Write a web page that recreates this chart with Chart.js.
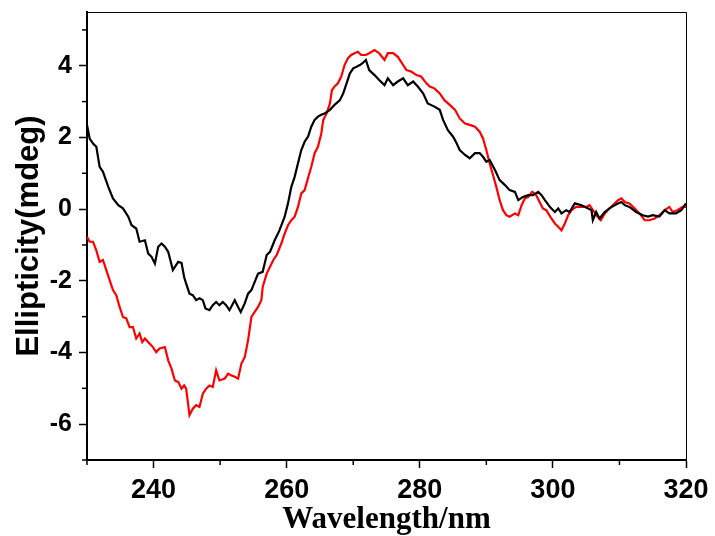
<!DOCTYPE html>
<html>
<head>
<meta charset="utf-8">
<script src="https://cdn.jsdelivr.net/npm/chart.js@4/dist/chart.umd.min.js"></script>
<style>
html,body{margin:0;padding:0;background:#fff;}
#wrap{width:715px;height:536px;}
</style>
</head>
<body>
<div id="wrap"><canvas id="c" width="715" height="536"></canvas></div>
<script>
// Black spectrum
const blackWavelength = [230.0,230.4,230.9,231.4,231.9,232.4,233.2,233.9,234.7,235.4,236.2,236.7,237.4,237.9,238.7,239.2,239.7,240.2,240.7,241.2,241.7,242.2,242.9,243.7,244.2,244.6,244.9,245.4,245.9,246.4,246.9,247.4,247.8,248.4,248.9,249.4,249.9,250.4,250.9,251.4,252.2,252.7,253.1,253.7,254.2,254.7,255.2,255.7,256.4,257.0,257.5,258.2,258.9,259.7,260.2,260.7,261.2,261.7,262.2,262.7,263.2,263.7,264.2,264.7,265.2,265.7,266.5,267.2,268.0,268.5,269.0,269.5,270.0,270.5,271.0,271.4,271.9,272.4,273.2,273.9,274.7,275.2,276.0,276.7,277.5,278.2,279.0,279.7,280.5,281.2,282.2,283.0,283.5,284.2,285.0,285.5,286.0,286.8,287.5,288.3,289.0,289.5,290.0,290.5,291.3,292.0,292.8,293.5,294.3,294.8,295.5,296.3,297.0,297.8,298.3,298.8,299.6,300.3,300.8,301.3,302.0,302.5,303.3,304.3,305.3,305.8,306.0,306.5,307.0,307.8,308.5,309.3,309.8,310.3,310.8,311.5,312.5,313.5,314.3,315.0,316.0,316.8,317.5,318.5,319.3,320.0];
const blackEllipticity = [2.35,1.97,1.83,1.74,1.18,1.04,0.62,0.30,0.11,0.02,-0.21,-0.45,-0.54,-0.91,-0.87,-1.24,-1.33,-1.52,-1.05,-0.96,-1.05,-1.19,-1.70,-1.47,-1.50,-1.90,-2.08,-2.36,-2.40,-2.54,-2.49,-2.54,-2.77,-2.82,-2.68,-2.59,-2.68,-2.59,-2.68,-2.82,-2.54,-2.73,-2.87,-2.63,-2.36,-2.26,-2.03,-1.80,-1.75,-1.28,-1.19,-0.87,-0.60,-0.21,0.16,0.62,0.90,1.28,1.65,1.88,2.02,2.30,2.49,2.58,2.63,2.67,2.77,2.91,3.04,3.23,3.51,3.79,3.93,3.97,4.02,4.07,4.16,3.88,3.74,3.60,3.46,3.65,3.46,3.56,3.65,3.46,3.56,3.42,3.23,2.95,2.86,2.77,2.49,2.21,2.02,1.85,1.65,1.51,1.42,1.56,1.56,1.46,1.32,1.37,1.09,0.81,0.67,0.53,0.48,0.25,0.34,0.39,0.39,0.48,0.39,0.25,0.05,-0.08,0.02,-0.12,-0.03,-0.08,0.16,0.11,0.02,-0.03,-0.31,-0.08,-0.26,-0.08,0.02,0.11,0.16,0.20,0.11,0.06,-0.08,-0.17,-0.21,-0.17,-0.21,-0.03,-0.12,-0.12,-0.03,0.16];

// Red spectrum
const redWavelength = [230.0,230.4,230.9,231.4,231.9,232.4,232.9,233.4,233.9,234.4,234.9,235.4,235.9,236.4,236.9,237.4,237.9,238.3,238.7,239.4,239.9,240.4,240.9,241.7,242.2,242.7,243.2,243.7,244.2,244.6,244.9,245.4,245.9,246.4,246.9,247.4,247.9,248.4,248.9,249.4,249.9,250.7,251.2,251.7,252.2,252.7,253.2,253.7,254.2,254.7,255.2,255.7,256.2,256.4,257.0,257.5,258.0,258.5,259.2,259.7,260.2,260.7,261.2,261.7,262.2,262.7,263.2,263.7,264.2,264.7,265.2,265.5,266.0,266.5,266.8,267.2,267.7,268.2,268.7,269.2,269.7,270.2,270.7,271.2,271.9,272.4,273.2,273.9,274.7,275.2,276.0,276.7,277.2,278.0,278.7,279.5,280.2,281.0,281.5,282.2,283.0,283.7,284.5,285.3,286.0,286.8,287.5,288.3,289.0,289.5,290.0,290.5,291.0,291.5,292.0,292.5,293.0,293.5,294.3,294.8,295.3,295.8,296.3,296.9,297.5,298.0,298.5,299.0,299.6,300.3,300.8,301.3,301.8,302.3,302.8,303.5,304.3,305.0,305.5,306.2,306.7,307.2,307.8,308.5,309.3,309.8,310.3,310.8,311.5,312.3,313.0,313.8,314.5,315.3,316.0,316.8,317.5,318.0,318.7,319.5,320.0];
const redEllipticity = [-0.77,-0.91,-0.91,-1.15,-1.47,-1.42,-1.70,-1.98,-2.26,-2.40,-2.73,-3.01,-3.05,-3.29,-3.29,-3.61,-3.47,-3.71,-3.61,-3.75,-3.85,-3.99,-3.89,-3.85,-4.22,-4.45,-4.78,-4.82,-5.01,-4.92,-5.01,-5.75,-5.57,-5.47,-5.52,-5.15,-5.01,-4.92,-4.96,-4.50,-4.78,-4.73,-4.59,-4.64,-4.68,-4.73,-4.31,-4.13,-3.66,-3.01,-2.87,-2.73,-2.54,-2.17,-1.80,-1.61,-1.42,-1.28,-0.96,-0.68,-0.45,-0.31,-0.21,0.06,0.44,0.53,0.86,1.18,1.56,1.74,2.11,2.49,2.67,2.95,3.32,3.42,3.51,3.70,4.02,4.21,4.30,4.35,4.39,4.30,4.30,4.35,4.44,4.35,4.16,4.35,4.35,4.25,4.11,3.88,3.84,3.74,3.70,3.51,3.42,3.37,3.23,3.04,2.91,2.77,2.53,2.39,2.35,2.30,2.16,1.97,1.65,1.28,0.95,0.62,0.25,-0.03,-0.17,-0.21,-0.12,-0.17,0.11,0.30,0.34,0.48,0.39,0.20,0.02,-0.03,-0.21,-0.40,-0.49,-0.59,-0.40,-0.17,-0.03,0.06,0.06,0.06,0.11,-0.08,-0.21,-0.31,-0.12,0.02,0.16,0.25,0.30,0.20,0.16,0.02,-0.12,-0.31,-0.31,-0.26,-0.17,-0.03,0.06,-0.08,-0.03,0.06,0.06];

// Axis settings
const xMin = 230, xMax = 320, xStep = 10, xMajor = 20;
const yMin = -7, yMax = 5.5, yStep = 1, yMajor = 2;
const xTitle = 'Wavelength/nm';
const yTitle = 'Ellipticity(mdeg)';

function toPoints(xs, ys){ return xs.map((x,i)=>({x:x, y:ys[i]})); }
function isMajor(v, m){ return Math.abs(v/m - Math.round(v/m)) < 1e-6; }

const frameAndMinorTicks = {
  id: 'frameAndMinorTicks',
  afterDraw(chart){
    const ctx = chart.ctx, a = chart.chartArea;
    ctx.save();
    ctx.strokeStyle = '#000';
    ctx.lineWidth = 1;
    ctx.beginPath();
    ctx.moveTo(a.left, a.top + 0.5);
    ctx.lineTo(a.right + 0.5, a.top + 0.5);
    ctx.lineTo(a.right + 0.5, a.bottom);
    ctx.stroke();
    ctx.lineWidth = 1.5;
    const xs = chart.scales.x, ys = chart.scales.y;
    xs.ticks.forEach(t=>{
      if (!isMajor(t.value, xMajor)) {
        const px = xs.getPixelForValue(t.value);
        ctx.beginPath(); ctx.moveTo(px, a.bottom); ctx.lineTo(px, a.bottom + 5); ctx.stroke();
      }
    });
    ys.ticks.forEach(t=>{
      if (!isMajor(t.value, yMajor)) {
        const py = ys.getPixelForValue(t.value);
        ctx.beginPath(); ctx.moveTo(a.left, py); ctx.lineTo(a.left - 5, py); ctx.stroke();
      }
    });
    ctx.restore();
  }
};

new Chart(document.getElementById('c'), {
  type: 'line',
  data: {
    datasets: [
      { label: 'black', data: toPoints(blackWavelength, blackEllipticity), borderColor: '#000000', borderWidth: 2.2, pointRadius: 0, tension: 0, fill: false },
      { label: 'red', data: toPoints(redWavelength, redEllipticity), borderColor: '#ff0000', borderWidth: 2.2, pointRadius: 0, tension: 0, fill: false }
    ]
  },
  options: {
    responsive: false,
    animation: false,
    events: [],
    layout: { padding: { top: 12, right: 29, left: 0, bottom: 0 } },
    plugins: { legend: { display: false }, tooltip: { enabled: false } },
    scales: {
      x: {
        type: 'linear', min: xMin, max: xMax,
        afterFit(s){ s.height = 76; s.paddingLeft = 0; s.paddingRight = 0; },
        border: { display: true, color: '#000', width: 2 },
        grid: { display: true, drawOnChartArea: false, drawTicks: true, tickLength: 8, tickWidth: 1.5,
                tickColor: (c)=> isMajor(c.tick.value, xMajor) ? '#000' : 'rgba(0,0,0,0)' },
        ticks: { stepSize: xStep, autoSkip: false, maxRotation: 0, padding: 6, color: '#000',
                 font: { family: 'Liberation Sans, Arial, sans-serif', size: 27, weight: 'bold' },
                 callback: (v)=> isMajor(v, xMajor) ? String(v) : '' },
        title: { display: true, text: xTitle, color: '#000', padding: { top: 0, bottom: 0 },
                 font: { family: 'Liberation Serif, Times New Roman, serif', size: 31, weight: 'bold', lineHeight: 1.05 } }
      },
      y: {
        type: 'linear', min: yMin, max: yMax,
        afterFit(s){ s.width = 87; s.paddingTop = 0; s.paddingBottom = 0; },
        border: { display: true, color: '#000', width: 2 },
        grid: { display: true, drawOnChartArea: false, drawTicks: true, tickLength: 8, tickWidth: 1.5,
                tickColor: (c)=> isMajor(c.tick.value, yMajor) ? '#000' : 'rgba(0,0,0,0)' },
        ticks: { stepSize: yStep, includeBounds: false, autoSkip: false, padding: 7, color: '#000',
                 font: { family: 'Liberation Sans, Arial, sans-serif', size: 25, weight: 'bold' },
                 callback: (v)=> isMajor(v, yMajor) ? String(v) : '' },
        title: { display: true, text: yTitle, color: '#000', padding: { top: 11, bottom: 0 },
                 font: { family: 'Liberation Sans, Arial, sans-serif', size: 31, weight: 'bold', lineHeight: 1.2 } }
      }
    }
  },
  plugins: [frameAndMinorTicks]
});
</script>
</body>
</html>
